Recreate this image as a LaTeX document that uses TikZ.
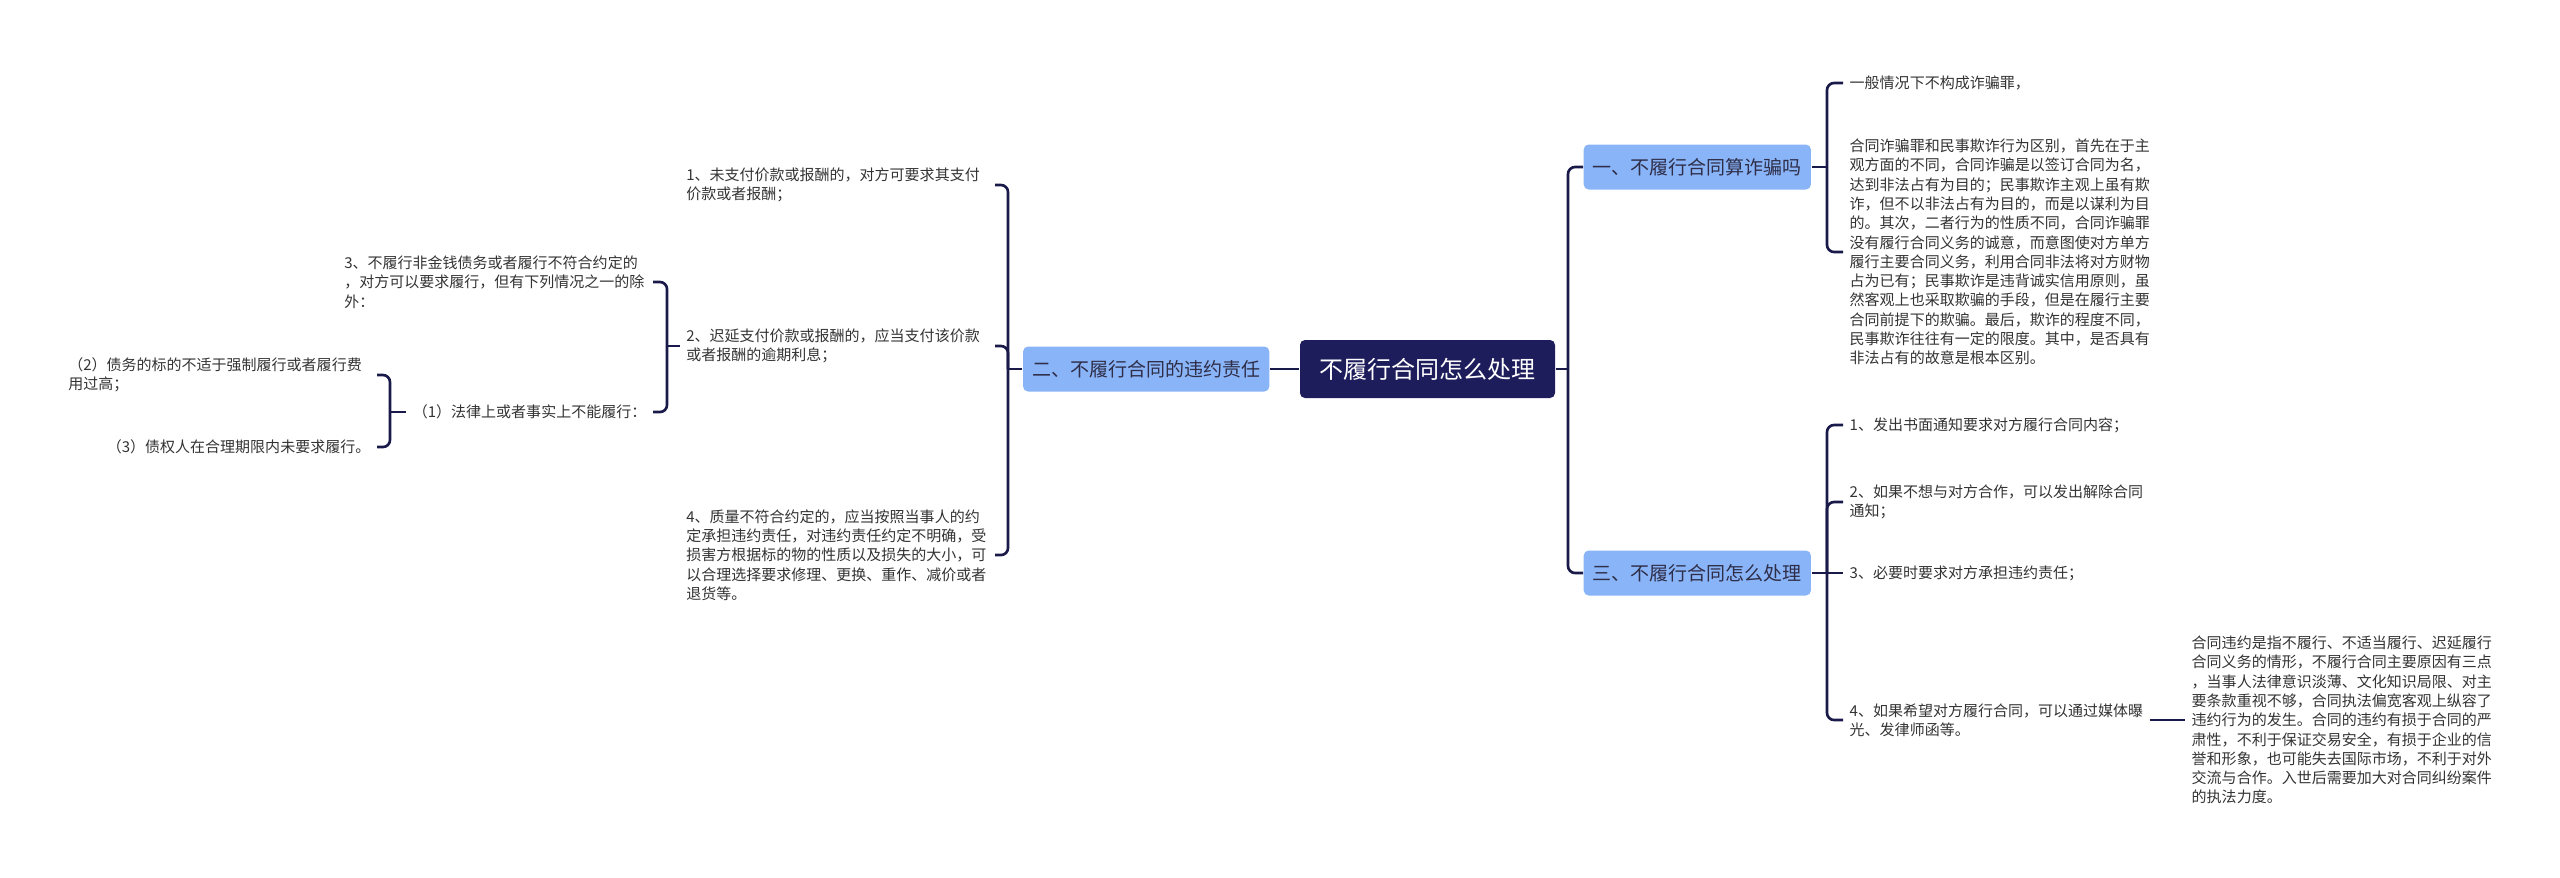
\documentclass[tikz,border=0pt]{standalone}
\usepackage{fontspec}
\setmainfont{Noto Sans CJK SC}
\definecolor{rootfill}{HTML}{1E1D5C}
\definecolor{topicfill}{HTML}{8AB4F8}
\definecolor{topictext}{HTML}{2E2E48}
\definecolor{leaftext}{HTML}{333333}
\definecolor{linknavy}{HTML}{1A1A4A}
\tikzset{
  rootbox/.style={fill=rootfill, text=white, rounded corners=1.4pt, minimum width=2.55cm, minimum height=0.58cm, inner sep=0pt, font=\fontsize{6.83pt}{8pt}\selectfont},
  topicbox/.style={fill=topicfill, text=topictext, rounded corners=1.4pt, minimum height=0.45cm, inner xsep=0.09cm, inner ysep=0pt, font=\fontsize{5.41pt}{6.5pt}\selectfont},
  leaf/.style={text=leaftext, inner xsep=0.06cm, inner ysep=0.02cm, align=left, font=\fontsize{4.27pt}{5.49pt}\selectfont},
  leafw/.style={leaf, text width=3.02cm},
  link/.style={draw=linknavy, line width=0.75pt},
  linkr/.style={link, rounded corners=2pt},
}
\begin{document}
\begin{tikzpicture}[x=1cm,y=1cm]
  \useasboundingbox (0,0) rectangle (25.600,-8.770);
  \node[rootbox] (root) at (14.275,-3.690) {不履行合同怎么处理};
  \node[topicbox, anchor=west] (t1) at (15.830,-1.670) {一、不履行合同算诈骗吗};
  \node[topicbox, anchor=east] (t2) at (12.700,-3.690) {二、不履行合同的违约责任};
  \node[topicbox, anchor=west] (t3) at (15.830,-5.730) {三、不履行合同怎么处理};
  \node[leaf, anchor=west] (a1) at (18.430,-0.830) {一般情况下不构成诈骗罪，};
  \node[leaf, anchor=west] (a2) at (18.430,-2.520) {合同诈骗罪和民事欺诈行为区别，首先在于主\\观方面的不同，合同诈骗是以签订合同为名，\\达到非法占有为目的；民事欺诈主观上虽有欺\\诈，但不以非法占有为目的，而是以谋利为目\\的。其次，二者行为的性质不同，合同诈骗罪\\没有履行合同义务的诚意，而意图使对方单方\\履行主要合同义务，利用合同非法将对方财物\\占为已有；民事欺诈是违背诚实信用原则，虽\\然客观上也采取欺骗的手段，但是在履行主要\\合同前提下的欺骗。最后，欺诈的程度不同，\\民事欺诈往往有一定的限度。其中，是否具有\\非法占有的故意是根本区别。};
  \node[leaf, anchor=west] (c1) at (18.430,-4.250) {1、发出书面通知要求对方履行合同内容；};
  \node[leaf, anchor=west] (c2) at (18.430,-5.020) {2、如果不想与对方合作，可以发出解除合同\\通知；};
  \node[leaf, anchor=west] (c3) at (18.430,-5.730) {3、必要时要求对方承担违约责任；};
  \node[leaf, anchor=west] (c4) at (18.430,-7.200) {4、如果希望对方履行合同，可以通过媒体曝\\光、发律师函等。};
  \node[leaf, anchor=west] (d1) at (21.850,-7.200) {合同违约是指不履行、不适当履行、迟延履行\\合同义务的情形，不履行合同主要原因有三点\\，当事人法律意识淡薄、文化知识局限、对主\\要条款重视不够，合同执法偏宽客观上纵容了\\违约行为的发生。合同的违约有损于合同的严\\肃性，不利于保证交易安全，有损于企业的信\\誉和形象，也可能失去国际市场，不利于对外\\交流与合作。入世后需要加大对合同纠纷案件\\的执法力度。};
  \node[leafw, anchor=east] (b1) at (9.950,-1.850) {1、未支付价款或报酬的，对方可要求其支付\\价款或者报酬；};
  \node[leafw, anchor=east] (b2) at (9.950,-3.460) {2、迟延支付价款或报酬的，应当支付该价款\\或者报酬的逾期利息；};
  \node[leafw, anchor=east] (b4) at (9.950,-5.550) {4、质量不符合约定的，应当按照当事人的约\\定承担违约责任，对违约责任约定不明确，受\\损害方根据标的物的性质以及损失的大小，可\\以合理选择要求修理、更换、重作、减价或者\\退货等。};
  \node[leafw, anchor=east] (b3) at (6.530,-2.820) {3、不履行非金钱债务或者履行不符合约定的\\，对方可以要求履行，但有下列情况之一的除\\外：};
  \node[leaf, anchor=east] (e1) at (6.530,-4.120) {（1）法律上或者事实上不能履行：};
  \node[leafw, anchor=east] (f1) at (3.770,-3.750) {（2）债务的标的不适于强制履行或者履行费\\用过高；};
  \node[leaf, anchor=east] (f2) at (3.770,-4.470) {（3）债权人在合理期限内未要求履行。};
  \coordinate (jr) at (15.680,-3.690);
  \coordinate (j1) at (18.270,-1.670);
  \coordinate (j3) at (18.270,-5.730);
  \coordinate (j2) at (10.080,-3.690);
  \coordinate (jb2) at (6.670,-3.460);
  \coordinate (je1) at (3.900,-4.120);
  \draw[link] (root.east) -- (jr);
  \draw[linkr] (jr) |- (t1.west);
  \draw[linkr] (jr) |- (t3.west);
  \draw[link] (root.west) -- (t2.east);
  \draw[link] (t1.east) -- (j1);
  \draw[linkr] (j1) |- (a1.west);
  \draw[linkr] (j1) |- (a2.west);
  \draw[link] (t3.east) -- (j3);
  \draw[linkr] (j3) |- (c1.west);
  \draw[linkr] (j3) |- (c2.west);
  \draw[link] (j3) -- (c3.west);
  \draw[linkr] (j3) |- (c4.west);
  \draw[link] (c4.east) -- (d1.west);
  \draw[link] (t2.west) -- (j2);
  \draw[linkr] (j2) |- (b1.east);
  \draw[linkr] (j2) |- (b2.east);
  \draw[linkr] (j2) |- (b4.east);
  \draw[link] (b2.west) -- (jb2);
  \draw[linkr] (jb2) |- (b3.east);
  \draw[linkr] (jb2) |- (e1.east);
  \draw[link] (e1.west) -- (je1);
  \draw[linkr] (je1) |- (f1.east);
  \draw[linkr] (je1) |- (f2.east);
\end{tikzpicture}
\end{document}
